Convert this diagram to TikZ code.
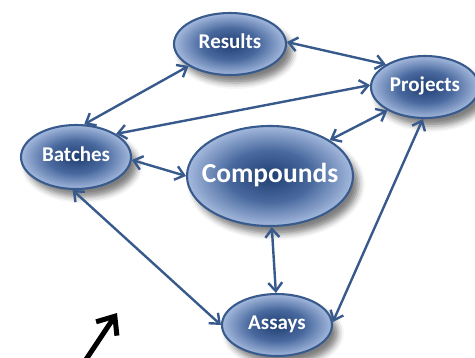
\documentclass[tikz,border=0pt]{standalone}
\usepackage{fontspec}
\setmainfont{Carlito}
\usetikzlibrary{shapes.geometric,arrows.meta,shadows.blur}
\definecolor{nodeedge}{HTML}{385A8C}
\definecolor{nodein}{HTML}{1F3E72}
\definecolor{nodemid}{HTML}{4A6A9F}
\definecolor{nodeout}{HTML}{A4B9DD}
\definecolor{linkblue}{HTML}{38598C}
\pgfdeclareradialshading{entshade}{\pgfpoint{0bp}{0bp}}{color(0bp)=(nodein); color(13bp)=(nodemid); color(25bp)=(nodeout); color(50bp)=(nodeout)}
\begin{document}
\begin{tikzpicture}[x=1pt,y=-1pt,
  ent/.style={ellipse, draw=nodeedge, line width=2.1pt, shading=entshade,
    text=white, font=\bfseries\fontsize{21}{23}\selectfont, inner sep=0pt,
    text height=13.5pt, text depth=4.5pt,
    blur shadow={shadow xshift=6pt, shadow yshift=-8pt, shadow blur radius=6pt, shadow opacity=50}},
  bigent/.style={ent, font=\bfseries\fontsize{27.5}{30}\selectfont, text height=18pt, text depth=5.5pt},
  link/.style={draw=linkblue, line width=2.4pt,
    {Straight Barb[length=8.5pt,width=14pt]}-{Straight Barb[length=8.5pt,width=14pt]}},
  pointer/.style={draw=black, line width=5pt, -{Straight Barb[length=15pt,width=25pt]}}
]
\useasboundingbox (0,0) rectangle (475,357);
\clip (0,0) rectangle (475,357);
\node[ent, minimum width=112pt, minimum height=62pt] (res) at (230,44) {\makebox[0pt]{Results}};
\node[ent, minimum width=108pt, minimum height=62pt] (prj) at (425,87) {\makebox[0pt]{Projects}};
\node[ent, minimum width=110pt, minimum height=64pt] (bat) at (76,157) {\makebox[0pt]{Batches}};
\node[bigent, minimum width=166pt, minimum height=100pt] (cmp) at (270,176) {\makebox[0pt]{Compounds}};
\node[ent, minimum width=110pt, minimum height=62pt] (asy) at (277,325) {\makebox[0pt]{Assays}};

\draw[link] (bat.76) -- (res.208);
\draw[link] (res.2) -- (prj.150);
\draw[link] (prj.178) -- (bat.30);
\draw[link] (prj.212) -- (cmp.31);
\draw[link] (bat.357) -- (cmp.180);
\draw[link] (bat.264) -- (asy.180);
\draw[link] (cmp.272) -- (asy.92);
\draw[link] (prj.266) -- (asy.3);

\coordinate (ptrtail) at (79,370);
\coordinate (ptrtip) at (117,313);
\draw[pointer] (ptrtail) -- (ptrtip);
\end{tikzpicture}
\end{document}
